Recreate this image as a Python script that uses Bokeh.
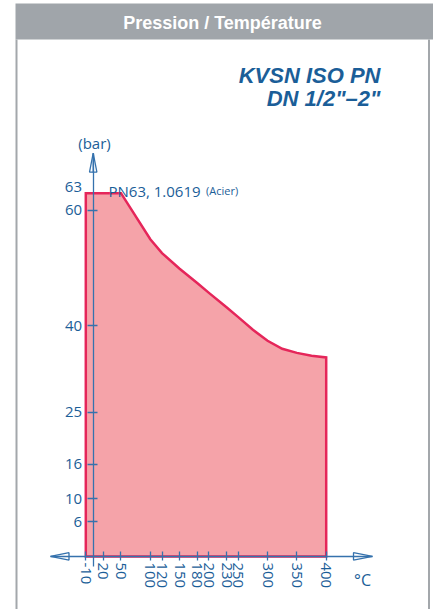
from bokeh.plotting import figure
from bokeh.models import Range1d, FixedTicker
from bokeh.core.properties import value
from bokeh.embed import file_html
from bokeh.resources import INLINE

# ---- data ----
temps = [-10, 20, 50, 100, 120, 150, 180, 200, 230, 250, 275, 300, 325, 350, 375, 400]
press = [63, 63, 63, 55.0, 52.6, 49.9, 47.4, 45.7, 43.2, 41.5, 39.3, 37.4, 36.0, 35.3, 34.8, 34.5]
x_ticks = [-10, 20, 50, 100, 120, 150, 180, 200, 230, 250, 300, 350, 400]
y_ticks = [6, 10, 16, 25, 40, 60]
y_top_label = 63
title = "Pression / Température"
subtitle1 = "KVSN ISO PN"
subtitle2 = "DN 1/2\"\u20132\""
series_label = "PN63, 1.0619"
series_note = "(Acier)"
y_unit = "(bar)"
x_unit = "°C"

# ---- page-pixel <-> data helpers (layout only) ----
X0, SX = 91.16, 0.58634
Y0, SY = 555.9, 5.766
OX, OY = 0, 0
W, H = 433, 609

def tx(px):
    return (px - X0) / SX

def ty(py):
    return (Y0 - py) / SY

BLUE = "#1b5e98"
AXIS = "#3572ad"
FONT = "Open Sans"

p = figure(width=W, height=H, output_backend="svg", toolbar_location=None,
           x_range=Range1d(tx(OX), tx(OX + W)), y_range=Range1d(ty(OY + H), ty(OY)),
           min_border=0, outline_line_color=None, background_fill_color="white",
           border_fill_color="white")
p.xgrid.visible = False
p.ygrid.visible = False

# header band and frame box
p.quad(left=[tx(15)], right=[tx(W + 2)], bottom=[ty(39)], top=[ty(3)],
       fill_color="#a0a5aa", line_color=None)
p.segment(x0=[tx(16), tx(428.5)], y0=[ty(39), ty(39)], x1=[tx(16), tx(428.5)], y1=[ty(H + 2), ty(H + 2)],
          line_color="#a3a7ab", line_width=2)

# area
xs = [temps[0]] + temps + [temps[-1]]
ys = [0] + press + [0]
p.patch(xs, ys, fill_color="#f5a3a9", line_color="#e5265a", line_width=2.5, line_join="miter")

# axes
p.xaxis.fixed_location = 0
p.yaxis.fixed_location = tx(92.7)
p.xaxis.ticker = FixedTicker(ticks=x_ticks)
p.yaxis.ticker = FixedTicker(ticks=y_ticks)
p.xaxis.major_label_overrides = {t: str(t) for t in x_ticks}
p.xaxis.bounds = (tx(50), tx(372))
p.yaxis.bounds = (ty(566), ty(152.7))
for ax in (p.xaxis[0], p.yaxis[0]):
    ax.axis_line_color = AXIS
    ax.axis_line_width = 1.3
    ax.major_tick_line_color = AXIS
    ax.major_tick_line_width = 1.3
    ax.minor_tick_line_color = None
    ax.major_label_text_color = BLUE
    ax.major_label_text_font = FONT
    ax.major_label_text_font_size = "15px"
p.xaxis.major_tick_in = 5
p.xaxis.major_tick_out = 4
p.xaxis.major_label_standoff = 2
p.xaxis.major_label_orientation = "vertical"
p.yaxis.major_tick_in = 4
p.yaxis.major_tick_out = 6
p.yaxis.major_label_standoff = 5

# arrow heads
heads_x = [
    [tx(92.7), tx(89), tx(96.4)],
    [tx(372), tx(353), tx(353)],
    [tx(50), tx(68.5), tx(68.5)],
]
heads_y = [
    [ty(152.7), ty(171.7), ty(171.7)],
    [ty(555.9), ty(552.2), ty(559.6)],
    [ty(555.9), ty(552.2), ty(559.6)],
]
p.patches(heads_x, heads_y, fill_color="white", line_color=AXIS, line_width=1.3)
p.segment(x0=[tx(92.7)], y0=[ty(152.7)], x1=[tx(92.7)], y1=[ty(172)], line_color=AXIS, line_width=1.3)

# texts
p.text(x=[tx(222)], y=[ty(22.5)], text=[title], text_font=value("Liberation Sans"),
       text_font_style="bold", text_font_size="18px", text_color="white",
       text_align="center", text_baseline="middle")
p.text(x=[tx(380), tx(380)], y=[ty(75), ty(98)], text=[subtitle1, subtitle2],
       text_font=value("Liberation Sans"), text_font_style="bold italic", text_font_size="22px",
       text_color=BLUE, text_align="right", text_baseline="middle")
p.text(x=[tx(94)], y=[ty(142)], text=[y_unit], text_font=value(FONT), text_font_size="15px",
       text_color=BLUE, text_align="center", text_baseline="middle")
p.text(x=[tx(81.5)], y=[y_top_label], y_offset=-6, text=[str(y_top_label)], text_font=value(FONT),
       text_font_size="15px", text_color=BLUE, text_align="right", text_baseline="middle")
p.text(x=[tx(108)], y=[ty(190)], text=[series_label], text_font=value(FONT), text_font_size="15px",
       text_color=BLUE, text_align="left", text_baseline="alphabetic")
p.text(x=[tx(205.5)], y=[ty(190)], text=[series_note], text_font=value(FONT), text_font_size="11px",
       text_color=BLUE, text_align="left", text_baseline="alphabetic")
p.text(x=[tx(362)], y=[ty(579)], text=[x_unit], text_font=value(FONT), text_font_size="16px",
       text_color=BLUE, text_align="center", text_baseline="middle")

open("out.html", "w").write(file_html(p, INLINE))
